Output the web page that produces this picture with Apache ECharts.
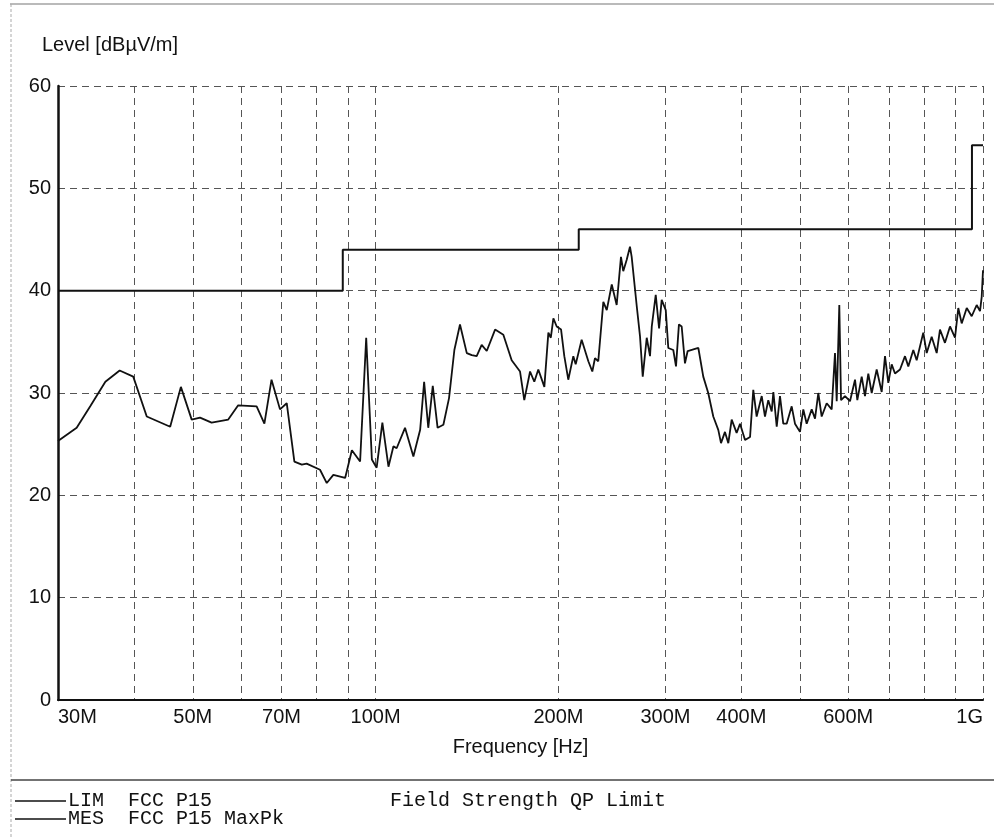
<!DOCTYPE html>
<html>
<head>
<meta charset="utf-8">
<title>Level vs Frequency</title>
<script src="https://cdn.jsdelivr.net/npm/echarts@6/dist/echarts.min.js"></script>
<style>
  html, body { margin: 0; padding: 0; background: #fff; }
  #chart { width: 994px; height: 839px; }
</style>
</head>
<body>
<div id="chart"></div>
<script>
// Frequency axis ticks (MHz)
const gridFreqs = [30, 40, 50, 60, 70, 80, 90, 100, 200, 300, 400, 500, 600, 700, 800, 900, 1000];
const labelFreqs = [30, 50, 70, 100, 200, 300, 400, 600, 1000];

// LIM: FCC P15 field strength QP limit (MHz, dBµV/m)
const limFreq = [30, 88.3, 88.3, 216, 216, 959, 959, 1000];
const limLevel = [40, 40, 44, 44, 46, 46, 54.2, 54.2];

// MES: FCC P15 MaxPk measured trace (MHz)
const mesFreq = [
  30.0, 32.2, 33.9, 35.9, 37.9, 39.9, 42.0, 45.9, 47.8, 49.8,
  51.4, 53.7, 57.2, 59.4, 63.7, 65.6, 67.4, 69.6, 71.4, 73.5,
  75.6, 77.0, 81.0, 83.1, 85.2, 89.1, 91.4, 94.3, 96.5, 98.6,
  100.4, 102.6, 105.0, 107.0, 108.3, 111.8, 115.4, 118.4, 120.2, 122.1,
  124.2, 126.5, 129.3, 132.1, 134.8, 137.7, 141.3, 144.0, 146.7, 149.5,
  152.4, 157.3, 162.3, 167.5, 172.9, 175.7, 179.6, 182.5, 185.3, 189.6,
  192.5, 194.3, 196.2, 198.7, 202.0, 204.5, 207.6, 211.6, 213.5, 218.4,
  224.0, 227.4, 229.7, 232.6, 237.1, 240.2, 244.8, 249.4, 253.5, 255.7,
  259.0, 262.3, 264.0, 269.1, 272.5, 275.3, 279.5, 283.0, 284.9, 289.2,
  292.9, 295.8, 300.4, 303.3, 309.1, 312.3, 315.8, 319.1, 323.1, 326.4,
  339.9, 346.3, 352.9, 359.7, 366.6, 370.4, 376.0, 380.8, 385.7, 393.0,
  398.1, 405.7, 413.5, 418.6, 424.0, 432.2, 437.6, 443.1, 448.9, 451.7,
  457.5, 463.2, 469.0, 475.1, 484.2, 490.3, 499.7, 506.0, 512.5, 522.4,
  529.0, 535.6, 542.5, 552.9, 563.5, 570.6, 574.3, 580.0, 583.8, 592.7,
  604.0, 615.6, 621.0, 631.4, 639.3, 647.4, 655.8, 668.3, 681.1, 689.7,
  698.4, 707.4, 716.3, 730.1, 744.0, 753.4, 767.8, 777.7, 797.4, 807.8,
  823.2, 839.0, 849.5, 865.7, 882.4, 899.3, 910.6, 922.4, 940.2, 958.1,
  976.4, 988.7, 995.1, 1000
];
// MES levels (dBµV/m)
const mesLevel = [
  25.3, 26.6, 28.7, 31.1, 32.2, 31.6, 27.7, 26.7, 30.6, 27.4,
  27.6, 27.1, 27.4, 28.8, 28.7, 27.0, 31.3, 28.4, 29.0, 23.3,
  23.0, 23.1, 22.5, 21.2, 22.0, 21.7, 24.4, 23.3, 35.4, 23.5,
  22.7, 27.1, 22.8, 24.8, 24.6, 26.6, 23.8, 26.4, 31.1, 26.6,
  30.7, 26.6, 26.9, 29.5, 34.2, 36.7, 33.9, 33.7, 33.6, 34.7,
  34.1, 36.2, 35.7, 33.2, 32.1, 29.3, 32.1, 31.1, 32.3, 30.6,
  35.9, 35.4, 37.3, 36.5, 36.2, 33.6, 31.3, 33.6, 32.8, 35.2,
  33.1, 32.1, 33.4, 33.1, 38.9, 38.1, 40.6, 38.6, 43.3, 41.9,
  43.0, 44.3, 43.3, 38.5, 35.5, 31.6, 35.4, 33.6, 36.5, 39.6,
  36.3, 39.1, 38.1, 34.4, 34.2, 32.6, 36.7, 36.5, 32.9, 34.1,
  34.4, 31.6, 30.0, 27.7, 26.4, 25.1, 26.2, 25.1, 27.4, 26.1,
  27.0, 25.4, 25.7, 30.3, 27.7, 29.7, 27.7, 29.3, 28.2, 30.1,
  26.7, 29.7, 27.0, 27.0, 28.7, 27.0, 26.2, 28.4, 27.0, 28.4,
  27.5, 30.0, 27.7, 29.0, 28.4, 33.9, 29.2, 38.6, 29.3, 29.7,
  29.2, 31.3, 29.3, 31.6, 29.7, 31.9, 30.0, 32.3, 30.1, 33.6,
  31.0, 32.8, 31.9, 32.3, 33.6, 32.6, 34.2, 33.2, 35.9, 33.9,
  35.5, 33.9, 36.2, 34.9, 36.5, 35.4, 38.3, 36.8, 38.3, 37.5,
  38.6, 38.0, 39.4, 42.0
];

// Y axis range and step
const levelMin = 0, levelMax = 60, levelStep = 10;

const zip = (xs, ys) => xs.map((x, i) => [x, ys[i]]);
const fmtFreq = v => (v >= 1000 ? (v / 1000) + 'G' : v + 'M');

const chart = echarts.init(document.getElementById('chart'), null, { renderer: 'canvas' });

const gridDash = { color: '#555', width: 1, type: [7, 5] };
const sans = 'Liberation Sans';

chart.setOption({
  animation: false,
  backgroundColor: '#fff',
  grid: { left: 58, right: 11, top: 86, bottom: 139, containLabel: false },
  xAxis: {
    type: 'log',
    logBase: 10,
    min: 30,
    max: 1000,
    name: 'Frequency [Hz]',
    nameLocation: 'middle',
    nameGap: 37,
    nameTextStyle: { fontFamily: sans, fontSize: 20, color: '#111' },
    axisLine: { show: true, lineStyle: { color: '#111', width: 2 } },
    axisTick: { show: false, customValues: gridFreqs },
    axisLabel: {
      customValues: labelFreqs,
      formatter: fmtFreq,
      fontFamily: sans,
      fontSize: 20,
      color: '#111',
      margin: 7,
      alignMinLabel: 'left',
      alignMaxLabel: 'right'
    },
    splitLine: { show: true, lineStyle: gridDash },
    minorSplitLine: { show: false }
  },
  yAxis: {
    type: 'value',
    min: levelMin,
    max: levelMax,
    interval: levelStep,
    axisLine: { show: true, lineStyle: { color: '#111', width: 2.5 } },
    axisTick: { show: false },
    axisLabel: { fontFamily: sans, fontSize: 20, color: '#111', margin: 7 },
    splitLine: { show: true, lineStyle: gridDash }
  },
  graphic: [
    { type: 'text', left: 42, top: 35,
      style: { text: 'Level [dBµV/m]', font: '20px "Liberation Sans"', fill: '#111' } },
    // page frame and legend separator
    { type: 'line', shape: { x1: 10, y1: 4, x2: 994, y2: 4 }, style: { stroke: '#777', lineWidth: 1.2 } },
    { type: 'line', shape: { x1: 11, y1: 4, x2: 11, y2: 839 }, style: { stroke: '#aaa', lineWidth: 1, lineDash: [3, 2] } },
    { type: 'line', shape: { x1: 11, y1: 780, x2: 994, y2: 780 }, style: { stroke: '#444', lineWidth: 1.5 } },
    // legend rows
    { type: 'line', shape: { x1: 15, y1: 801, x2: 66, y2: 801 }, style: { stroke: '#111', lineWidth: 1.5 } },
    { type: 'text', left: 68, top: 791,
      style: { text: 'LIM  FCC P15', font: '20px "Liberation Mono"', fill: '#111' } },
    { type: 'text', left: 390, top: 791,
      style: { text: 'Field Strength QP Limit', font: '20px "Liberation Mono"', fill: '#111' } },
    { type: 'line', shape: { x1: 15, y1: 819, x2: 66, y2: 819 }, style: { stroke: '#111', lineWidth: 1.5 } },
    { type: 'text', left: 68, top: 809,
      style: { text: 'MES  FCC P15 MaxPk', font: '20px "Liberation Mono"', fill: '#111' } }
  ],
  series: [
    {
      name: 'LIM',
      type: 'line',
      data: zip(limFreq, limLevel),
      showSymbol: false,
      lineStyle: { color: '#111', width: 2 },
      z: 3
    },
    {
      name: 'MES',
      type: 'line',
      data: zip(mesFreq, mesLevel),
      showSymbol: false,
      lineStyle: { color: '#111', width: 1.8 },
      z: 4
    }
  ]
});
</script>
</body>
</html>
